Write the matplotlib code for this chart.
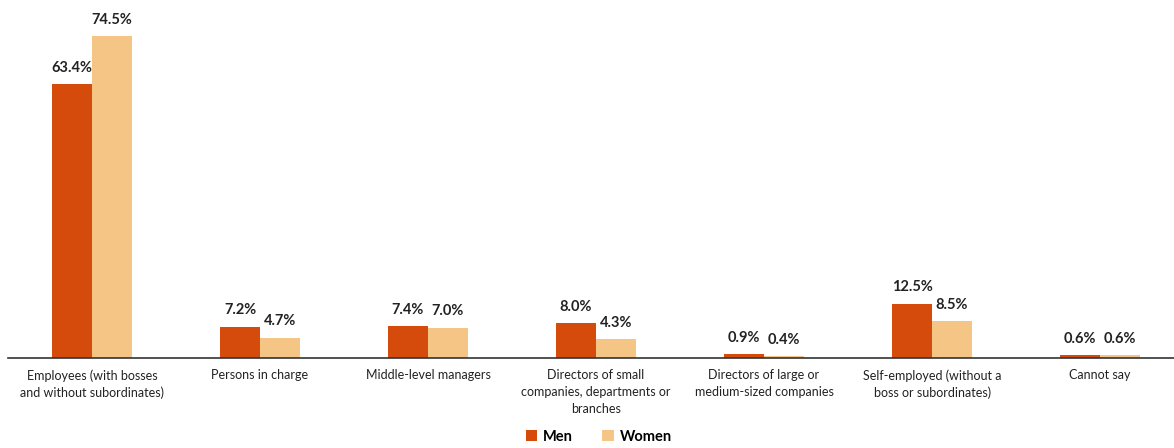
import matplotlib.pyplot as plt
import numpy as np

categories = ["Employees (with bosses\nand without subordinates)", "Persons in charge",
              "Middle-level managers", "Directors of small\ncompanies, departments or\nbranches",
              "Directors of large or\nmedium-sized companies", "Self-employed (without a\nboss or subordinates)",
              "Cannot say"]
men = [63.4, 7.2, 7.4, 8.0, 0.9, 12.5, 0.6]
women = [74.5, 4.7, 7.0, 4.3, 0.4, 8.5, 0.6]

plt.rcParams['font.family'] = ['Lato', 'DejaVu Sans']

fig = plt.figure(figsize=(11.74, 4.48), dpi=100)
ax = fig.add_axes([8 / 1174, 1 - 358 / 448, 1 - 8 / 1174, 345.6 / 448])

x = np.arange(len(categories))
w = 0.238
b1 = ax.bar(x - w / 2, men, w, color="#D54B0C", label="Men")
b2 = ax.bar(x + w / 2, women, w, color="#F5C585", label="Women")

for bars in (b1, b2):
    for r in bars:
        ax.text(r.get_x() + r.get_width() / 2, r.get_height() + 2.2, f"{r.get_height():.1f}%",
                ha="center", va="bottom", fontsize=10.5, fontweight="bold", color="#222222")

ax.set_xlim(-0.5, 6.44)
ax.set_ylim(0, 80)
ax.set_yticks([])
ax.set_xticks(x)
ax.set_xticklabels(categories, fontsize=9, color="#222222", linespacing=1.5)
ax.tick_params(axis="x", length=0, pad=8)
for s in ["top", "right", "left"]:
    ax.spines[s].set_visible(False)
ax.spines["bottom"].set_color("#333333")
ax.spines["bottom"].set_linewidth(1.2)

fig.legend(loc="lower center", bbox_to_anchor=(0.51, -0.02), ncol=2, frameon=False,
           prop={"size": 10.5, "weight": "bold"}, handlelength=0.8, handleheight=0.8,
           handletextpad=0.4, columnspacing=2.0)

fig.savefig("out.png", dpi=100)
